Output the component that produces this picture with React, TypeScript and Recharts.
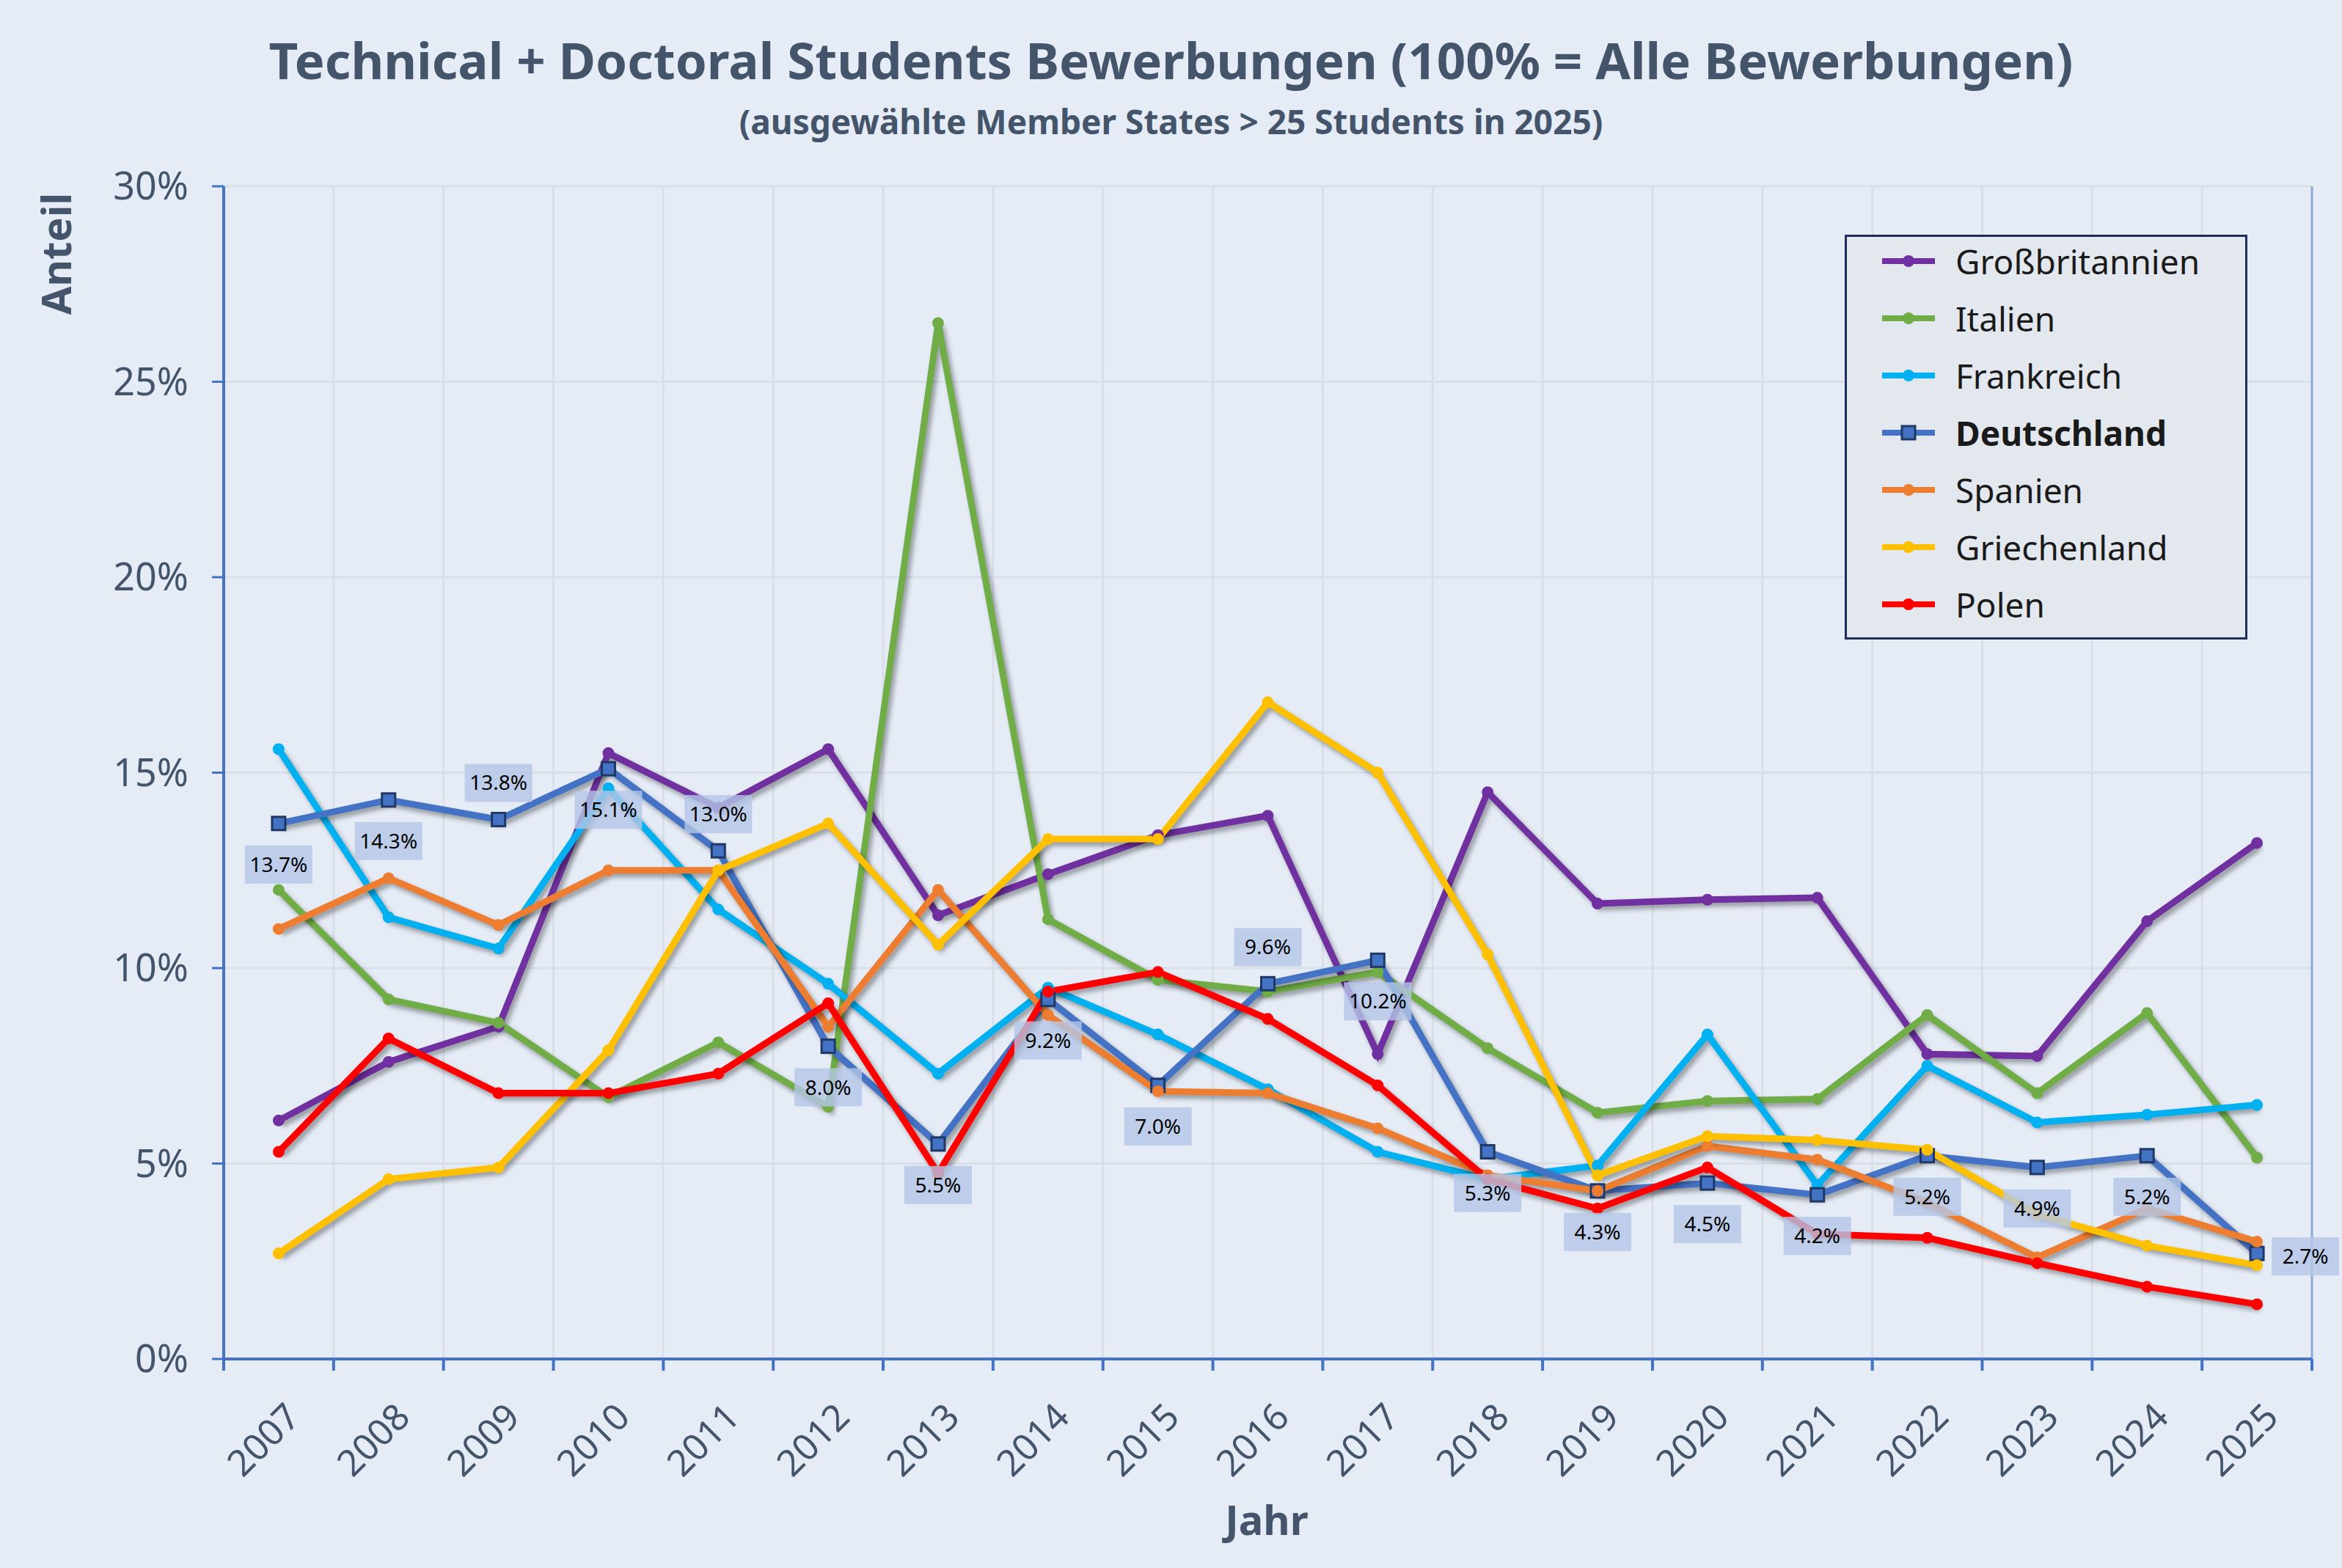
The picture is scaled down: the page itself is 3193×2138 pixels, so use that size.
import React from 'react';
import { LineChart, Line, XAxis, YAxis, CartesianGrid, LabelList, ReferenceLine } from 'recharts';

const YEARS = ['2007', '2008', '2009', '2010', '2011', '2012', '2013', '2014', '2015', '2016', '2017', '2018', '2019', '2020', '2021', '2022', '2023', '2024', '2025'];
const GB = [6.1, 7.6, 8.5, 15.5, 14.1, 15.6, 11.35, 12.4, 13.4, 13.9, 7.8, 14.5, 11.65, 11.75, 11.8, 7.8, 7.75, 11.2, 13.2];
const IT = [12.0, 9.2, 8.6, 6.7, 8.1, 6.45, 26.5, 11.25, 9.7, 9.4, 9.9, 7.95, 6.3, 6.6, 6.65, 8.8, 6.8, 8.85, 5.15];
const FR = [15.6, 11.3, 10.5, 14.6, 11.5, 9.6, 7.3, 9.5, 8.3, 6.9, 5.3, 4.6, 4.95, 8.3, 4.45, 7.5, 6.05, 6.25, 6.5];
const DE = [13.7, 14.3, 13.8, 15.1, 13.0, 8.0, 5.5, 9.2, 7.0, 9.6, 10.2, 5.3, 4.3, 4.5, 4.2, 5.2, 4.9, 5.2, 2.7];
const ES = [11.0, 12.3, 11.1, 12.5, 12.5, 8.5, 12.0, 8.8, 6.85, 6.8, 5.9, 4.7, 4.3, 5.45, 5.1, 4.0, 2.6, 3.85, 3.0];
const GR = [2.7, 4.6, 4.9, 7.9, 12.5, 13.7, 10.6, 13.3, 13.3, 16.8, 15.0, 10.35, 4.7, 5.7, 5.6, 5.35, 3.7, 2.9, 2.4];
const PL = [5.3, 8.2, 6.8, 6.8, 7.3, 9.1, 4.75, 9.4, 9.9, 8.7, 7.0, 4.6, 3.85, 4.9, 3.2, 3.1, 2.45, 1.85, 1.4];
// where the Deutschland label sits: b = below, a = above, r = right
const DE_POS = ['b', 'b', 'a', 'b', 'a', 'b', 'b', 'b', 'b', 'a', 'b', 'b', 'b', 'b', 'b', 'b', 'b', 'b', 'r'];
const Y_TICKS = [0, 5, 10, 15, 20, 25, 30];
const MINOR_TICKS = Array.from({ length: 31 }, (_, i) => i);
const BOUNDS = Array.from({ length: 20 }, (_, i) => i - 0.5);

const SERIES = [
  { key: 'gb', name: 'Großbritannien', color: '#7030a0', values: GB },
  { key: 'it', name: 'Italien', color: '#70ad47', values: IT },
  { key: 'fr', name: 'Frankreich', color: '#00b0f0', values: FR },
  { key: 'de', name: 'Deutschland', color: '#4472c4', values: DE },
  { key: 'es', name: 'Spanien', color: '#ed7d31', values: ES },
  { key: 'gr', name: 'Griechenland', color: '#ffc000', values: GR },
  { key: 'pl', name: 'Polen', color: '#ff0000', values: PL },
];

const data = YEARS.map((y, i) => {
  const row: any = { x: i, year: y };
  SERIES.forEach((s) => (row[s.key] = s.values[i]));
  return row;
});

const SLATE = '#44546a';
const FONT = '"Noto Sans", "Open Sans", sans-serif';

if (typeof document !== 'undefined') document.body.style.margin = '0';

const Square = (props: any) => {
  const { cx, cy } = props;
  if (cx == null || cy == null) return <g />;
  return <rect x={cx - 9} y={cy - 9} width={18} height={18} fill="#4472c4" stroke="#1f3864" strokeWidth={3} />;
};

const DeLabel = (props: any) => {
  const { x, y, index, value } = props;
  const pos = DE_POS[index];
  let cx = x;
  let cy = y + 56;
  if (pos === 'a') cy = y - 50;
  if (pos === 'r') { cx = x + 66; cy = y + 4; }
  return (
    <g>
      <rect x={cx - 46} y={cy - 26} width={92} height={52} fill="#b4c7e7" fillOpacity={0.8} />
      <text x={cx} y={cy + 10} textAnchor="middle" fontSize={28} fill="#000" fontFamily={FONT}>
        {Number(value).toFixed(1)}%
      </text>
    </g>
  );
};

const YearTick = (props: any) => {
  const { x, y, payload } = props;
  return (
    <text x={x + 32} y={y + 54} transform={`rotate(-45 ${x + 32} ${y + 54})`} textAnchor="end" fontSize={50} fill={SLATE} fontFamily={FONT}>
      {YEARS[payload.value]}
    </text>
  );
};

const PctTick = (props: any) => {
  const { x, y, payload } = props;
  return (
    <text x={x - 30} y={y + 18} textAnchor="end" fontSize={52} fill={SLATE} fontFamily={FONT}>
      {payload.value}%
    </text>
  );
};

const Blank = () => <g />;

const App: React.FC = () => {
  return (
    <div style={{ position: 'relative', width: 3193, height: 2138, background: '#e5ecf6', fontFamily: FONT, overflow: 'hidden' }}>
      <style>{`.recharts-line-curve { filter: drop-shadow(4px 5px 3px rgba(0,0,0,0.35)); }`}</style>
      <div style={{ position: 'absolute', left: 0, right: 0, top: 34, textAlign: 'center', fontSize: 69, fontWeight: 700, color: SLATE }}>
        Technical + Doctoral Students Bewerbungen (100% = Alle Bewerbungen)
      </div>
      <div style={{ position: 'absolute', left: 0, right: 0, top: 134, textAlign: 'center', fontSize: 46, fontWeight: 700, color: SLATE }}>
        (ausgewählte Member States &gt; 25 Students in 2025)
      </div>
      <div style={{ position: 'absolute', left: 75, top: 346, transform: 'translate(-50%, -50%) rotate(-90deg)', fontSize: 56, fontWeight: 700, color: SLATE }}>
        Anteil
      </div>
      <div style={{ position: 'absolute', left: 1727, top: 2071, transform: 'translate(-50%, -50%)', fontSize: 56, fontWeight: 700, color: SLATE }}>
        Jahr
      </div>
      <LineChart width={3193} height={2138} data={data} margin={{ top: 254, right: 41, left: 0, bottom: 0 }} style={{ position: 'absolute', left: 0, top: 0 }}>
        <CartesianGrid stroke="#d8dfe9" strokeWidth={3} />
        <XAxis dataKey="x" type="number" domain={[-0.5, 18.5]} ticks={BOUNDS} tick={Blank} height={20} axisLine={{ stroke: '#4472c4', strokeWidth: 4 }} tickLine={{ stroke: '#4472c4', strokeWidth: 4 }} tickSize={16} />
        <XAxis xAxisId="lab" dataKey="x" type="number" domain={[-0.5, 18.5]} ticks={YEARS.map((_, i) => i)} tick={YearTick} height={265} axisLine={false} tickLine={false} />
        <YAxis domain={[0, 30]} ticks={Y_TICKS} tick={PctTick} width={305} axisLine={{ stroke: '#4472c4', strokeWidth: 4 }} tickLine={{ stroke: '#4472c4', strokeWidth: 3 }} tickSize={16} />
        <YAxis yAxisId="minor" domain={[0, 30]} ticks={MINOR_TICKS} tick={Blank} width={0} axisLine={false} tickLine={{ stroke: '#4472c4', strokeWidth: 2 }} tickSize={8} />
        <ReferenceLine x={18.5} stroke="#8faadc" strokeWidth={3} />
        {SERIES.map((s) => (
          <Line
            key={s.key}
            dataKey={s.key}
            name={s.name}
            stroke={s.color}
            strokeWidth={9}
            isAnimationActive={false}
            dot={s.key === 'de' ? <Square /> : { r: 7, fill: s.color, stroke: s.color, strokeWidth: 2 }}
            activeDot={false}
          />
        ))}
        <Line dataKey="de" stroke="none" dot={false} activeDot={false} isAnimationActive={false} legendType="none">
          <LabelList dataKey="de" content={<DeLabel />} />
        </Line>
      </LineChart>
      <div style={{ position: 'absolute', left: 2515, top: 320, width: 543, height: 546, border: '3px solid #1f2d5a', background: '#e3e8ef' }}>
        {SERIES.map((s, i) => (
          <div key={s.key} style={{ position: 'absolute', left: 44, top: -2 + i * 78, height: 70, display: 'flex', alignItems: 'center' }}>
            <svg width={80} height={24}>
              <line x1={4} y1={12} x2={76} y2={12} stroke={s.color} strokeWidth={8} />
              {s.key === 'de'
                ? <rect x={31} y={3} width={18} height={18} fill="#4472c4" stroke="#1f3864" strokeWidth={3} />
                : <circle cx={40} cy={12} r={8} fill={s.color} />}
            </svg>
            <span style={{ marginLeft: 24, fontSize: 46, color: '#1a1a1a', fontWeight: s.key === 'de' ? 700 : 400 }}>{s.name}</span>
          </div>
        ))}
      </div>
    </div>
  );
};

export default App;
